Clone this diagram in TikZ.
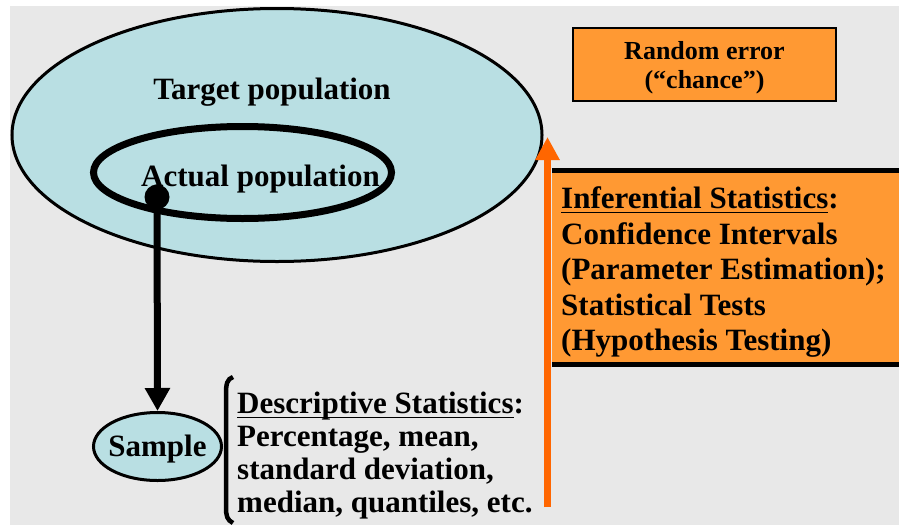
\documentclass[tikz,border=0pt]{standalone}
\usepackage{amsmath}
\usepackage{fontspec}
\setmainfont{Liberation Serif}
\usepackage{tikz}
\usetikzlibrary{arrows.meta}
\usetikzlibrary{shapes.geometric}

\definecolor{bggray}{HTML}{E8E8E8}
\definecolor{popblue}{HTML}{B9DFE3}
\definecolor{boxorange}{HTML}{FF9933}
\definecolor{arroworange}{HTML}{FF6600}

\tikzset{
    bigtext/.style={font=\bfseries\fontsize{31}{35.5}\selectfont},
    popellipse/.style={ellipse, draw, inner sep=0pt},
}

\begin{document}
\begin{tikzpicture}[x=1pt, y=-1pt]
        \useasboundingbox (0,0) rectangle (899,525);
        \fill[bggray] (10,6) rectangle (899,525);

        % Target and actual population
        \begin{scope}
            \node[popellipse, line width=3pt, fill=popblue, minimum width=530, minimum height=253] (target) at (277,135) {};
            \node[bigtext, anchor=base] (targetlabel) at (272,99) {Target population};
            \node[popellipse, line width=7pt, minimum width=298, minimum height=92] (actual) at (242.5,172.5) {};
            \node[bigtext, anchor=base] (actuallabel) at (260.5,186) {Actual population};
            \node[circle, fill=black, inner sep=0pt, minimum size=25] (dot) at (157,197) {};
        \end{scope}

        % Sample and descriptive statistics
        \begin{scope}
            \node[popellipse, line width=3pt, fill=popblue, minimum width=128, minimum height=68] (sample) at (157.5,446.5) {};
            \node[bigtext, anchor=base] (samplelabel) at (157.5,456) {Sample};
            \draw[line width=7pt, -{Triangle[length=23pt, width=24pt]}] (dot.center) -- (sample.north);
            \draw[line width=4.5pt] (233,377) .. controls (227,379) and (226,384) .. (226,394)
                -- (226,507) .. controls (226,516) and (227,520) .. (233,523);
            \node[bigtext, font=\bfseries\fontsize{31}{33}\selectfont, anchor=north west, inner sep=0pt, align=left] (descriptive) at (237,392)
                {\underline{\smash[b]{Descriptive Statistics}}:\\
                 Percentage, mean,\\
                 standard deviation,\\
                 median, quantiles, etc.};
        \end{scope}

        % Random error and inferential statistics
        \begin{scope}
            \node[draw, line width=1.5pt, fill=boxorange, minimum width=263, minimum height=73] (randomerror) at (704.5,64.5) {};
            \node[align=center, font=\bfseries\fontsize{26}{29}\selectfont] (randomlabel) at (704.5,67.5) {Random error\\(“chance”)};
            \node[fill=boxorange, anchor=north west, minimum width=360, minimum height=194] (inferentialbox) at (552,170.5) {};
            \draw[line width=5pt] (inferentialbox.north west) -- (inferentialbox.north east);
            \draw[line width=5pt] (inferentialbox.south west) -- (inferentialbox.south east);
            \node[bigtext, anchor=north west, inner sep=0pt, align=left] (inferential) at (561,186.5)
                {\underline{\smash[b]{Inferential Statistics}}:\\
                 Confidence Intervals\\
                 (Parameter Estimation);\\
                 Statistical Tests\\
                 (Hypothesis Testing)};
            \coordinate (errorbase) at (547.5,507);
            \coordinate (errortip) at (547.5,137);
            \draw[arroworange, line width=7pt, -{Triangle[length=23pt, width=23pt]}] (errorbase) -- (errortip);
        \end{scope}
\end{tikzpicture}
\end{document}
